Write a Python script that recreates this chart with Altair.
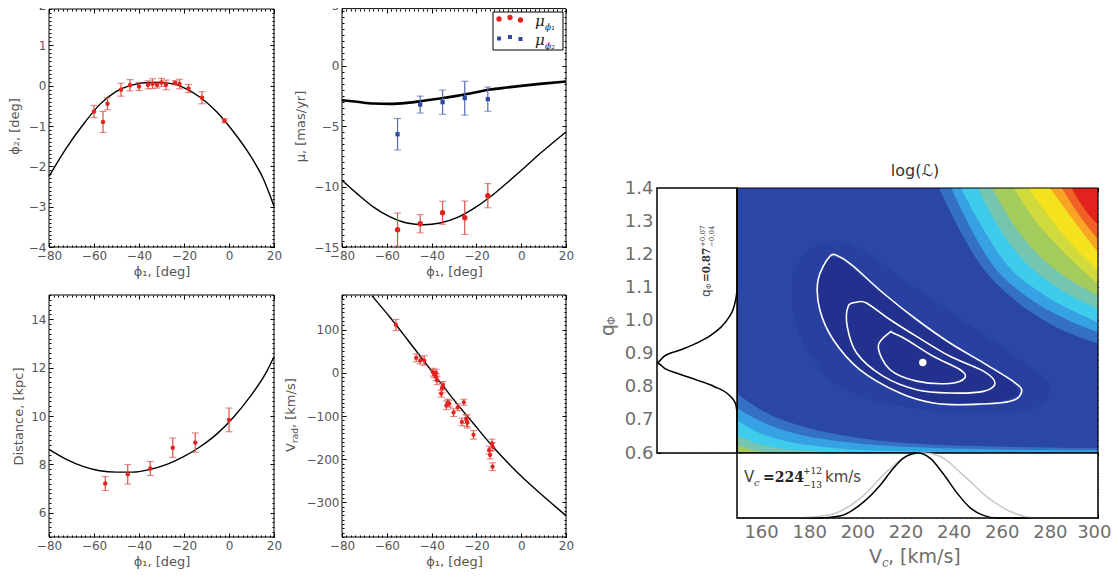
import altair as alt
import pandas as pd

# ---------------------------------------------------------------- data
# panel 1 : phi2 vs phi1
p1_phi1 = [-60, -56, -54, -48, -44, -40, -36, -34, -32, -30, -28, -24, -22, -18, -12, -2]
p1_phi2 = [-0.64, -0.90, -0.45, -0.10, 0.01, -0.02, 0.02, 0.05, 0.02, 0.08, 0.02, 0.07, 0.04, -0.07, -0.30, -0.87]
p1_err = [0.15, 0.26, 0.15, 0.16, 0.14, 0.10, 0.10, 0.12, 0.08, 0.10, 0.12, 0.05, 0.12, 0.10, 0.15, 0.05]
p1_model_phi1 = [-80, -72.3, -64.9, -57.5, -50.1, -42.7, -35.3, -27.9, -20.4, -13.0, -5.6, 1.8, 9.2, 15.1, 20]
p1_model_phi2 = [-2.25, -1.55, -0.97, -0.47, -0.14, 0.02, 0.08, 0.07, -0.04, -0.28, -0.64, -1.13, -1.71, -2.29, -2.99]

# panel 2 : proper motions
p2_phi1 = [-55.2, -45.1, -35.1, -25.2, -14.9]
p2_mu1 = [-13.57, -13.08, -12.17, -12.58, -10.76]
p2_mu1_err = [1.38, 0.75, 0.95, 1.38, 1.0]
p2_mu2 = [-5.68, -3.23, -3.03, -2.70, -2.78]
p2_mu2_err = [1.3, 0.7, 1.0, 1.4, 1.0]
p2_model_phi1 = [-80, -73.3, -65.9, -58.5, -51.0, -43.6, -36.2, -28.7, -21.3, -13.9, -6.4, 1.0, 8.4, 20]
p2_model_mu1 = [-9.49, -10.59, -11.70, -12.52, -13.02, -13.16, -13.02, -12.58, -11.83, -10.87, -9.71, -8.52, -7.28, -5.49]
p2_model_mu2 = [-2.87, -3.00, -3.14, -3.17, -3.09, -2.92, -2.73, -2.51, -2.26, -1.99, -1.82, -1.66, -1.52, -1.32]

# panel 3 : distance
p3_phi1 = [-55, -45, -35, -25, -15, 0]
p3_dist = [7.21, 7.59, 7.83, 8.69, 8.90, 9.84]
p3_err = [0.29, 0.40, 0.29, 0.40, 0.40, 0.49]
p3_model_phi1 = [-80, -72.3, -64.9, -57.5, -50.1, -42.7, -35.3, -27.9, -20.4, -13.0, -5.6, 1.8, 9.2, 16.6, 20]
p3_model_dist = [8.62, 8.21, 7.92, 7.74, 7.68, 7.68, 7.79, 7.99, 8.31, 8.72, 9.24, 9.93, 10.78, 11.81, 12.45]

# panel 4 : radial velocity
p4_phi1 = [-55.9, -46.9, -45.1, -43.3, -39.4, -38.8, -38.0, -38.0, -37.6, -35.4, -34.9, -35.7, -33.4, -32.8,
           -32.1, -30.2, -28.3, -26.5, -25.6, -24.6, -24.3, -24.0, -21.3, -14.3, -13.9, -13.0, -12.7, -12.8]
p4_vrad = [110.6, 34.5, 28.4, 28.4, 1.5, -3.8, -0.8, -10.0, -17.7, -35.3, -29.2, -48.4, -75.2, -69.9,
           -71.4, -92.1, -79.8, -113.6, -68.3, -106.7, -111.3, -115.9, -143.6, -178.9, -190.4, -163.5, -171.2, -217.3]
p4_err = [13, 9, 8, 11, 9, 8, 9, 8, 10, 11, 9, 8, 10, 9, 8, 9, 8, 9, 7, 10, 13, 12, 10, 9, 9, 10, 9, 9]
p4_model_phi1 = [-66.6, -58.5, -51.0, -43.6, -36.2, -28.7, -21.3, -13.9, -6.4, 1.0, 8.4, 15.8, 20]
p4_model_vrad = [178, 128, 78.3, 28.4, -21.5, -71.4, -117.5, -163.5, -205.8, -244.1, -278.7, -312, -330.5]

# likelihood map: filled levels (top-right, bottom-left)
lvl_colors = ['#3470c6', '#37a2e3', '#3ecbec', '#74c6b0', '#a4cc5c', '#d0da3c', '#f5e21f', '#f7a523', '#ef6124', '#e3221f']
tr_V = [[234, 242, 251, 264, 280, 300],
        [239, 247, 256, 269, 285, 300],
        [243, 252, 262, 275, 288, 300],
        [250, 258, 268, 281, 300],
        [256, 264, 275, 288, 300],
        [265, 273, 284, 300],
        [271, 279, 289, 300],
        [280, 287, 300],
        [285, 292, 300],
        [289, 295, 300]]
tr_q = [[1.4, 1.28, 1.17, 1.07, 0.99, 0.93],
        [1.4, 1.28, 1.17, 1.08, 1.01, 0.965],
        [1.4, 1.28, 1.17, 1.09, 1.035, 0.995],
        [1.4, 1.29, 1.19, 1.11, 1.035],
        [1.4, 1.30, 1.20, 1.125, 1.075],
        [1.4, 1.31, 1.22, 1.11],
        [1.4, 1.32, 1.23, 1.15],
        [1.4, 1.33, 1.205],
        [1.4, 1.32, 1.245],
        [1.4, 1.33, 1.29]]
bl_V = [[150, 160, 175, 195, 220, 260, 300],
        [150, 160, 175, 195, 225, 265, 300],
        [150, 158, 170, 185, 210, 250, 290],
        [150, 157, 166, 180, 195],
        [150, 155, 162]]
bl_q = [[0.78, 0.73, 0.685, 0.652, 0.630, 0.619, 0.614],
        [0.735, 0.695, 0.657, 0.633, 0.617, 0.610, 0.608],
        [0.700, 0.665, 0.636, 0.619, 0.607, 0.604, 0.603],
        [0.655, 0.632, 0.616, 0.606, 0.601],
        [0.625, 0.612, 0.602]]
halo_q = [0.72, 0.75, 0.80, 0.88, 0.96, 1.04, 1.12, 1.20, 1.24]
halo_vl = [238, 212, 193, 182, 176, 173, 173, 178, 187]
halo_vr = [262, 278, 280, 268, 252, 236, 220, 205, 195]
core_q = [0.75, 0.78, 0.82, 0.86, 0.90, 0.95, 1.00, 1.05, 1.10, 1.15, 1.19]
core_vl = [233, 218, 208, 200, 195, 189, 186, 184, 183.5, 185, 188]
core_vr = [256, 267, 263, 254, 245, 234, 224, 216, 207, 199, 193]

c1_V = [188.6, 183.7, 184.4, 190.0, 201.0, 217.7, 231.5, 245.4, 263.5, 268.3, 264.8, 252.4, 238.5, 224.6, 210.7, 198.3, 192.7]
c1_q = [1.194, 1.123, 1.033, 0.942, 0.852, 0.781, 0.751, 0.746, 0.756, 0.786, 0.816, 0.872, 0.932, 1.003, 1.083, 1.164, 1.192]
c2_V = [199.7, 196.2, 195.8, 199.7, 210.7, 224.6, 238.5, 252.4, 257.2, 252.4, 238.5, 224.6, 213.5, 203.8]
c2_q = [1.055, 1.043, 0.982, 0.902, 0.832, 0.791, 0.781, 0.786, 0.811, 0.847, 0.892, 0.952, 1.003, 1.053]
c3_V = [213.5, 208.7, 213.5, 224.6, 238.5, 244.7, 242.6, 231.5, 220.5, 214.9]
c3_q = [0.964, 0.922, 0.852, 0.817, 0.810, 0.827, 0.852, 0.892, 0.942, 0.962]
best_V = [227.2]
best_q = [0.873]

# marginals
qm_q = [0.60, 0.72, 0.75, 0.775, 0.80, 0.82, 0.84, 0.855, 0.872, 0.89, 0.91, 0.93, 0.955, 0.98, 1.01, 1.04, 1.09, 1.4]
qm_p = [0, 0, 0.02, 0.10, 0.28, 0.50, 0.74, 0.90, 1.0, 0.92, 0.72, 0.52, 0.33, 0.20, 0.10, 0.04, 0.0, 0]
vm_V = [150, 184, 192.7, 202.4, 209.4, 214.9, 219.1, 225.3, 230.2, 235.7, 241.3, 246.8, 252.4, 258, 300]
vm_p = [0, 0, 0.03, 0.24, 0.50, 0.76, 0.92, 1.0, 0.92, 0.68, 0.39, 0.16, 0.04, 0, 0]
vg_V = [150, 175, 188.6, 202.4, 212.1, 221.8, 227.4, 234.3, 244.0, 255.1, 264.8, 274.5, 300]
vg_p = [0, 0, 0.05, 0.34, 0.71, 0.97, 1.0, 0.95, 0.66, 0.29, 0.08, 0, 0]

# axis tick values
PHI_TICKS = [-80, -60, -40, -20, 0, 20]
PHI_MINOR = list(range(-80, 21, 2))
P1_TICKS = [-4, -3, -2, -1, 0, 1, 2]
P2_TICKS = [-15, -10, -5, 0, 5]
P3_TICKS = [6, 8, 10, 12, 14]
P4_TICKS = [-300, -200, -100, 0, 100]
VC_TICKS = [160, 180, 200, 220, 240, 260, 280, 300]
Q_TICKS = [0.6, 0.7, 0.8, 0.9, 1.0, 1.1, 1.2, 1.3, 1.4]

# ---------------------------------------------------------------- layout helpers
W, H = 1103, 563
M = 8


def px(X):
    return X - M


def py(Y):
    return Y - M


FONT = 'DejaVu Sans'
SERIF = 'DejaVu Serif'
LBL = '#555555'
RLBL = '#6e6e6e'
RED = '#e3231d'
ERR = '#d6524b'
BLUE = '#2b4aa0'
EBLUE = '#5569b0'
BASE = '#2b47a6'
HALO = '#2841a0'
CORE = '#22318e'
ONE = pd.DataFrame({'k': [0]})


def sc(dom, rng):
    return alt.Scale(domain=dom, range=rng, nice=False, zero=False)


def x_axis(bottom, title, values, fs=12, col=LBL, pad=3, tpad=4, tick=4, fmt=None, flush=0):
    kw = dict(orient='bottom', offset=py(bottom) - tick - H, values=values, domain=False,
              tickSize=tick, tickColor='black', tickWidth=1, grid=False,
              labelFont=FONT, labelFontSize=fs, labelColor=col, labelPadding=pad,
              labelFlush=bool(flush), labelOverlap=False,
              title=title, titleFont=FONT, titleFontSize=fs + 1, titleFontWeight='normal',
              titleColor=col, titlePadding=tpad)
    if flush:
        kw['labelFlushOffset'] = flush
    if fmt:
        kw['format'] = fmt
    return alt.Axis(**kw)


def y_axis(left, title, values, fs=12, col=LBL, pad=3, tpad=6, tick=4, fmt=None):
    kw = dict(orient='left', offset=-(px(left) + tick), values=values, domain=False,
              tickSize=tick, tickColor='black', tickWidth=1, grid=False,
              labelFont=FONT, labelFontSize=fs, labelColor=col, labelPadding=pad,
              labelFlush=False, labelOverlap=False,
              title=title, titleFont=FONT, titleFontSize=fs + 1, titleFontWeight='normal',
              titleColor=col, titlePadding=tpad)
    if fmt:
        kw['format'] = fmt
    return alt.Axis(**kw)


def tick_layer(scale, channel, orient, edge, values, size):
    """invisible mark that only carries an axis of inward ticks on one frame edge"""
    if orient == 'bottom':
        off = py(edge) - size - H
    elif orient == 'top':
        off = -(py(edge) + size)
    elif orient == 'left':
        off = -(px(edge) + size)
    else:
        off = px(edge) - size - W
    ax = alt.Axis(orient=orient, offset=off, values=values, domain=False, labels=False,
                  tickSize=size, tickColor='black', tickWidth=1, grid=False, title=None)
    d = pd.DataFrame({'v': [values[0]]})
    if channel == 'x':
        enc = {'x': alt.X('v:Q', scale=scale, axis=ax)}
    else:
        enc = {'y': alt.Y('v:Q', scale=scale, axis=ax)}
    return alt.Chart(d).mark_point(opacity=0).encode(**enc)


def frame_ticks(XS, YS, l, r, t, b, xmaj, xmin, ymaj, ymin, sides='tr', minor_sides='tblr'):
    out = []
    for side in minor_sides:
        if side == 't':
            out.append(tick_layer(XS, 'x', 'top', t, xmin, 2))
        if side == 'b':
            out.append(tick_layer(XS, 'x', 'bottom', b, xmin, 2))
        if side == 'l':
            out.append(tick_layer(YS, 'y', 'left', l, ymin, 2))
        if side == 'r':
            out.append(tick_layer(YS, 'y', 'right', r, ymin, 2))
    for side in sides:
        if side == 't':
            out.append(tick_layer(XS, 'x', 'top', t, xmaj, 4))
        if side == 'r':
            out.append(tick_layer(YS, 'y', 'right', r, ymaj, 4))
    return out


def frame_df(x0, x1, y0, y1):
    return pd.DataFrame({'x0': [x0], 'x1': [x1], 'y0': [y0], 'y1': [y1]})


def data_panel(XS, YS, XA, YA, xdom, ydom, curves, pointsets):
    layers = [alt.Chart(frame_df(xdom[0], xdom[1], ydom[0], ydom[1])).mark_rect(
        fillOpacity=0, stroke='black', strokeWidth=1).encode(
        x=alt.X('x0:Q', scale=XS, axis=XA), x2='x1:Q',
        y=alt.Y('y0:Q', scale=YS, axis=YA), y2='y1:Q')]
    for cxs, cys, wdt in curves:
        d = pd.DataFrame({'x0': cxs, 'y0': cys})
        layers.append(alt.Chart(d).mark_line(color='black', strokeWidth=wdt, interpolate='monotone').encode(
            x=alt.X('x0:Q', scale=XS, axis=XA), y=alt.Y('y0:Q', scale=YS, axis=YA)))
    for xs, ys, es, col, ecol, shape, size in pointsets:
        d = pd.DataFrame({'x0': xs, 'y0': ys,
                          'lo': [a - b for a, b in zip(ys, es)],
                          'hi': [a + b for a, b in zip(ys, es)]})
        ex = alt.X('x0:Q', scale=XS, axis=XA)
        layers.append(alt.Chart(d).mark_rule(color=ecol, strokeWidth=1.2).encode(
            x=ex, y=alt.Y('lo:Q', scale=YS, axis=YA), y2='hi:Q'))
        for f in ['lo', 'hi']:
            layers.append(alt.Chart(d).mark_tick(color=ecol, orient='horizontal', size=7, thickness=1.1).encode(
                x=ex, y=alt.Y(f + ':Q', scale=YS, axis=YA)))
        layers.append(alt.Chart(d).mark_point(shape=shape, filled=True, color=col, size=size, opacity=1).encode(
            x=ex, y=alt.Y('y0:Q', scale=YS, axis=YA)))
    return alt.layer(*layers)


def label(text, X, Y, fs=12, col=LBL, font=FONT, align='left', baseline='alphabetic', angle=0,
          weight='normal', style='normal'):
    return alt.Chart(ONE).mark_text(text=text, font=font, fontSize=fs, color=col, align=align,
                                    baseline=baseline, angle=angle, fontWeight=weight,
                                    fontStyle=style).encode(x=alt.value(px(X)), y=alt.value(py(Y)))


def minor(lo, hi, step):
    n = int(round((hi - lo) / step))
    return [round(lo + i * step, 4) for i in range(n + 1)]


T1, B1, T2, B2 = 9, 247, 295, 537
L1, R1, L2, R2 = 49, 274, 342, 566
layers = []

# panel 1
XS1 = sc([-80, 20], [px(L1), px(R1)])
YS1 = sc([-4, 2], [py(B1), py(5)])
layers.append(data_panel(XS1, YS1,
                         x_axis(B1, 'ϕ₁, [deg]', PHI_TICKS),
                         y_axis(L1, 'ϕ₂, [deg]', P1_TICKS, tpad=7),
                         [-80, 20], [-4, 1.9],
                         [(p1_model_phi1, p1_model_phi2, 1.4)],
                         [(p1_phi1, p1_phi2, p1_err, RED, ERR, 'circle', 20)]))
layers += frame_ticks(XS1, YS1, L1, R1, T1, B1, PHI_TICKS, PHI_MINOR, P1_TICKS[:-1], minor(-4, 1.9, 0.1))

# panel 2
XS2 = sc([-80, 20], [px(L2), px(R2)])
YS2 = sc([-15, 5], [py(B1), py(5)])
layers.append(data_panel(XS2, YS2,
                         x_axis(B1, 'ϕ₁, [deg]', PHI_TICKS),
                         y_axis(L2, 'μ, [mas/yr]', P2_TICKS, tpad=6),
                         [-80, 20], [-15, 4.7],
                         [(p2_model_phi1, p2_model_mu2, 2.6), (p2_model_phi1, p2_model_mu1, 1.4)],
                         [(p2_phi1, p2_mu2, p2_mu2_err, BLUE, EBLUE, 'square', 18),
                          (p2_phi1, p2_mu1, p2_mu1_err, RED, ERR, 'circle', 30)]))
layers += frame_ticks(XS2, YS2, L2, R2, T1, B1, PHI_TICKS, PHI_MINOR, P2_TICKS[:-1], minor(-15, 4.5, 0.5))

# panel 3
XS3 = sc([-80, 20], [px(L1), px(R1)])
YS3 = sc([5, 15], [py(B2), py(T2)])
layers.append(data_panel(XS3, YS3,
                         x_axis(B2, 'ϕ₁, [deg]', PHI_TICKS),
                         y_axis(L1, 'Distance, [kpc]', P3_TICKS, tpad=5),
                         [-80, 20], [5, 15],
                         [(p3_model_phi1, p3_model_dist, 1.4)],
                         [(p3_phi1, p3_dist, p3_err, RED, ERR, 'circle', 20)]))
layers += frame_ticks(XS3, YS3, L1, R1, T2, B2, PHI_TICKS, PHI_MINOR, P3_TICKS, minor(5, 15, 0.2))

# panel 4
XS4 = sc([-80, 20], [px(L2), px(R2)])
YS4 = sc([-380, 180], [py(B2), py(T2)])
layers.append(data_panel(XS4, YS4,
                         x_axis(B2, 'ϕ₁, [deg]', PHI_TICKS),
                         y_axis(L2, None, P4_TICKS),
                         [-80, 20], [-380, 180],
                         [(p4_model_phi1, p4_model_vrad, 1.4)],
                         [(p4_phi1, p4_vrad, p4_err, RED, ERR, 'circle', 18)]))
layers += frame_ticks(XS4, YS4, L2, R2, T2, B2, PHI_TICKS, PHI_MINOR, P4_TICKS, minor(-380, 180, 10))

# ---------------------------------------------------------------- likelihood map
ML, MR, MT, MB = 737, 1098, 188, 453
LML = 657
BMB = 518
SV = sc([150, 300], [px(ML), px(MR)])
SQ = sc([0.6, 1.4], [py(MB), py(MT)])

main = [alt.Chart(frame_df(150, 300, 0.6, 1.4)).mark_rect(color=BASE).encode(
    x=alt.X('x0:Q', scale=SV, axis=None), x2='x1:Q',
    y=alt.Y('y0:Q', scale=SQ, axis=None), y2='y1:Q')]
for qs, vl, vr, col in [(halo_q, halo_vl, halo_vr, HALO), (core_q, core_vl, core_vr, CORE)]:
    d = pd.DataFrame({'q': qs, 'vl': vl, 'vr': vr})
    main.append(alt.Chart(d).mark_area(orient='horizontal', interpolate='monotone', color=col).encode(
        y=alt.Y('q:Q', scale=SQ, axis=None), x=alt.X('vl:Q', scale=SV, axis=None, stack=None), x2='vr:Q'))
for col, vs, qs in zip(lvl_colors, tr_V, tr_q):
    d = pd.DataFrame({'V': vs, 'q': qs, 'edge': [1.4] * len(vs)})
    main.append(alt.Chart(d).mark_area(color=col, interpolate='monotone').encode(
        x=alt.X('V:Q', scale=SV, axis=None), y=alt.Y('q:Q', scale=SQ, axis=None, stack=None), y2='edge:Q'))
for col, vs, qs in zip(lvl_colors, bl_V, bl_q):
    d = pd.DataFrame({'V': vs, 'q': qs, 'edge': [0.6] * len(vs)})
    main.append(alt.Chart(d).mark_area(color=col, interpolate='monotone').encode(
        x=alt.X('V:Q', scale=SV, axis=None), y=alt.Y('q:Q', scale=SQ, axis=None, stack=None), y2='edge:Q'))
for vs, qs in [(c1_V, c1_q), (c2_V, c2_q), (c3_V, c3_q)]:
    d = pd.DataFrame({'V': vs, 'q': qs, 'i': list(range(len(vs)))})
    main.append(alt.Chart(d).mark_line(color='white', strokeWidth=1.6, interpolate='cardinal-closed').encode(
        x=alt.X('V:Q', scale=SV, axis=None), y=alt.Y('q:Q', scale=SQ, axis=None), order='i:Q'))
main.append(alt.Chart(pd.DataFrame({'V': best_V, 'q': best_q})).mark_circle(color='white', size=55, opacity=1).encode(
    x=alt.X('V:Q', scale=SV, axis=None), y=alt.Y('q:Q', scale=SQ, axis=None)))
main.append(alt.Chart(frame_df(150, 300, 0.6, 1.4)).mark_rect(fillOpacity=0, stroke='black', strokeWidth=1.2).encode(
    x=alt.X('x0:Q', scale=SV, axis=None), x2='x1:Q',
    y=alt.Y('y0:Q', scale=SQ, axis=None), y2='y1:Q'))
layers.append(alt.layer(*main))
V_MINOR = minor(150, 300, 2.5)
Q_MINOR = minor(0.6, 1.4, 0.02)
layers += [tick_layer(SV, 'x', 'top', MT, V_MINOR, 2), tick_layer(SV, 'x', 'top', MT, VC_TICKS, 4),
           tick_layer(SQ, 'y', 'right', MR, Q_MINOR, 2), tick_layer(SQ, 'y', 'right', MR, Q_TICKS, 4)]

# left marginal (q)
SPL = sc([0, 1], [px(ML), px(LML)])
YQ = y_axis(LML, None, Q_TICKS, fs=18, col=RLBL, pad=4, fmt='.1f')
layers.append(alt.layer(
    alt.Chart(frame_df(0, 1, 0.6, 1.4)).mark_rect(fill='white', stroke='black', strokeWidth=1.5).encode(
        x=alt.X('x0:Q', scale=SPL, axis=None), x2='x1:Q', y=alt.Y('y0:Q', scale=SQ, axis=YQ), y2='y1:Q'),
    alt.Chart(pd.DataFrame({'x0': qm_p, 'y0': qm_q})).mark_line(color='black', strokeWidth=1.5, interpolate='monotone').encode(
        x=alt.X('x0:Q', scale=SPL, axis=None), y=alt.Y('y0:Q', scale=SQ, axis=YQ), order='y0:Q'),
))
P_MINOR = minor(0, 1, 0.04)
layers += [tick_layer(SPL, 'x', 'top', MT, P_MINOR, 3), tick_layer(SPL, 'x', 'bottom', MB, P_MINOR, 3),
           tick_layer(SQ, 'y', 'left', LML, Q_MINOR, 2)]

# bottom marginal (Vc)
SPB = sc([0, 1], [py(BMB), py(MB)])
XV = x_axis(BMB, None, VC_TICKS, fs=18, col=RLBL, pad=5, flush=13)
layers.append(alt.layer(
    alt.Chart(frame_df(150, 300, 0, 1)).mark_rect(fill='white', stroke='black', strokeWidth=1.5).encode(
        x=alt.X('x0:Q', scale=SV, axis=XV), x2='x1:Q', y=alt.Y('y0:Q', scale=SPB, axis=None), y2='y1:Q'),
    alt.Chart(pd.DataFrame({'x0': vg_V, 'y0': vg_p})).mark_line(color='#c8c8c8', strokeWidth=1.5, interpolate='monotone').encode(
        x=alt.X('x0:Q', scale=SV, axis=XV), y=alt.Y('y0:Q', scale=SPB, axis=None)),
    alt.Chart(pd.DataFrame({'x0': vm_V, 'y0': vm_p})).mark_line(color='black', strokeWidth=1.5, interpolate='monotone').encode(
        x=alt.X('x0:Q', scale=SV, axis=XV), y=alt.Y('y0:Q', scale=SPB, axis=None)),
))
D_TICKS = [0.2, 0.4, 0.6, 0.8]
layers += [tick_layer(SV, 'x', 'bottom', BMB, V_MINOR, 2), tick_layer(SV, 'x', 'top', MB, V_MINOR, 2),
           tick_layer(SPB, 'y', 'left', ML, D_TICKS, 4), tick_layer(SPB, 'y', 'right', MR, D_TICKS, 4),
           tick_layer(SPB, 'y', 'left', ML, minor(0, 1, 0.05), 2), tick_layer(SPB, 'y', 'right', MR, minor(0, 1, 0.05), 2)]

# ---------------------------------------------------------------- annotations
ann = [
    # legend of panel 2
    alt.Chart(ONE).mark_rect(fill='white', stroke='black', strokeWidth=1).encode(
        x=alt.value(px(493)), x2=alt.value(px(563)), y=alt.value(py(12)), y2=alt.value(py(50))),
]
for X, Y in [(499, 19), (510, 17.5), (520.5, 20)]:
    ann.append(alt.Chart(ONE).mark_point(shape='circle', filled=True, color=RED, size=28, opacity=1).encode(
        x=alt.value(px(X)), y=alt.value(py(Y))))
for X, Y in [(499, 38.5), (510, 37), (520.5, 39)]:
    ann.append(alt.Chart(ONE).mark_point(shape='square', filled=True, color=BLUE, size=16, opacity=1).encode(
        x=alt.value(px(X)), y=alt.value(py(Y))))
ann += [
    label('μ', 535, 26, fs=15, col='#222', font=SERIF, style='italic'),
    label('ϕ₁', 545, 30, fs=9, col='#222', font=SERIF, style='italic'),
    label('μ', 535, 45, fs=15, col='#222', font=SERIF, style='italic'),
    label('ϕ₂', 545, 49, fs=9, col='#222', font=SERIF, style='italic'),
    # V_rad axis title (panel 4)
    label('V', 291, 452, fs=13, angle=270, baseline='middle'),
    label('rad', 294.5, 443, fs=9, angle=270, baseline='middle'),
    label(', [km/s]', 291, 428, fs=13, angle=270, baseline='middle'),
    # map title
    label('log(ℒ)', 915, 176, fs=16, col='#333', align='center'),
    # q_Phi axis title
    label('q', 608, 336, fs=19, col=RLBL, angle=270, baseline='middle'),
    label('Φ', 612, 325, fs=11, col=RLBL, angle=270, baseline='middle'),
    # Vc axis title
    label('V', 869, 563, fs=19, col=RLBL),
    label('c', 882, 567, fs=12, col=RLBL, font=SERIF, style='italic'),
    label(', [km/s]', 888, 563, fs=19, col=RLBL),
    # q marginal annotation
    label('q', 706, 297, fs=12, col='#444', angle=270, baseline='middle'),
    label('Φ', 709, 289, fs=7, col='#444', angle=270, baseline='middle'),
    label('=0.87', 707, 282, fs=10.5, col='#333', font=SERIF, weight='bold', angle=270, baseline='middle'),
    label('+0.07', 703, 247, fs=7, col='#333', font=SERIF, angle=270, baseline='middle'),
    label('−0.04', 712, 247, fs=7, col='#333', font=SERIF, angle=270, baseline='middle'),
    # Vc marginal annotation
    label('V', 744, 482, fs=15, col='#444'),
    label('c', 754, 486, fs=10, col='#444', font=SERIF, style='italic'),
    label('=224', 763, 482, fs=14, col='#222', font=SERIF, weight='bold'),
    label('+12', 803, 474, fs=9, col='#222', font=SERIF),
    label('−13', 803, 488, fs=9, col='#222', font=SERIF),
    label('km/s', 825, 482, fs=15, col='#444'),
]

chart = alt.layer(*layers, *ann).resolve_scale(
    x='independent', y='independent'
).properties(
    width=W, height=H, padding=0, autosize=alt.AutoSizeParams(type='none')
).configure_view(stroke=None)

chart.save('out.html', embed_options={'renderer': 'svg', 'actions': False})
